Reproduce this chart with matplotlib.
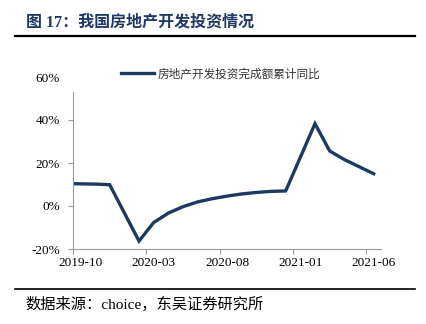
import numpy as np
import matplotlib
matplotlib.use("Agg")
import matplotlib.pyplot as plt
from matplotlib.lines import Line2D

# monthly cumulative YoY (%), Jan values are not published
months = ['2019-09', '2019-10', '2019-11', '2019-12', '2020-02', '2020-03',
          '2020-04', '2020-05', '2020-06', '2020-07', '2020-08', '2020-09',
          '2020-10', '2020-11', '2020-12', '2021-02', '2021-03', '2021-04',
          '2021-05', '2021-06']
values = [10.5, 10.3, 10.2, 9.9, -16.3, -7.7, -3.3, -0.3, 1.9, 3.4, 4.6, 5.6,
          6.3, 6.8, 7.0, 38.3, 25.6, 21.6, 18.3, 15.0]
tick_labels = ['2019-10', '2020-03', '2020-08', '2021-01', '2021-06']
y_ticks = [-20, 0, 20, 40, 60]
series_name = '房地产开发投资完成额累计同比'

navy = '#1B3A5E'
grey = '#9A9A9A'
cjk = ['Noto Sans CJK SC', 'DejaVu Sans']
serif_cjk = ['Liberation Serif', 'Noto Sans CJK SC']


def month_pos(s):
    y, m = s.split('-')
    return (int(y) - 2019) * 12 + (int(m) - 10) + 0.5


x = np.array([month_pos(m) for m in months])

fig = plt.figure(figsize=(4.26, 3.24), dpi=100)
ax = fig.add_axes([73 / 426, 1 - 249 / 324, 308 / 426, 172 / 324])

ax.plot(x, values, color=navy, lw=2.4, solid_joinstyle='miter')
ax.set_xlim(0, 21)
ax.set_ylim(-20, 60)

# month boundaries get the tick marks, labels sit in the middle of the month
ax.set_xticks([month_pos(t) - 0.5 for t in tick_labels])
ax.set_xticklabels([])
ax.set_xticks([month_pos(t) for t in tick_labels], minor=True)
ax.set_xticklabels(tick_labels, minor=True, family='Liberation Serif', fontsize=9.5)
ax.tick_params(axis='x', which='major', length=3.5, color=grey, width=0.8)
ax.tick_params(axis='x', which='minor', length=0, pad=6)

ax.set_yticks(y_ticks)
ax.set_yticklabels([f'{v}%' for v in y_ticks], family='Liberation Serif', fontsize=9.5)
ax.tick_params(axis='y', length=3.5, color=grey, width=0.8, pad=6)
ax.yaxis.get_major_ticks()[-1].tick1line.set_visible(False)

for s in ['top', 'right']:
    ax.spines[s].set_visible(False)
for s in ['left', 'bottom']:
    ax.spines[s].set_color(grey)
    ax.spines[s].set_linewidth(0.8)
ax.spines['left'].set_bounds(-20, 53)

leg = fig.legend([Line2D([], [], color=navy, lw=2.4)], [series_name],
                 loc='center left', bbox_to_anchor=(121 / 426, 1 - 74 / 324),
                 frameon=False, borderpad=0, borderaxespad=0,
                 handlelength=2.8, handletextpad=0.3,
                 prop={'family': cjk, 'size': 8.4})
for t in leg.get_texts():
    t.set_color('#333333')

fig.text(26 / 426, 1 - 22 / 324, '图 17：我国房地产开发投资情况', family=serif_cjk,
         fontsize=11.5, fontweight='bold', color='#1F3864', va='center', ha='left')
fig.add_artist(Line2D([15 / 426, 415 / 426], [1 - 36 / 324, 1 - 36 / 324],
                      color='black', lw=1.6))
fig.add_artist(Line2D([15 / 426, 415 / 426], [1 - 289 / 324, 1 - 289 / 324],
                      color='black', lw=1.2))
fig.text(25 / 426, 1 - 304 / 324, '数据来源：choice，东吴证券研究所', family=serif_cjk,
         fontsize=11, color='black', va='center', ha='left')

fig.savefig('out.png', dpi=100)
